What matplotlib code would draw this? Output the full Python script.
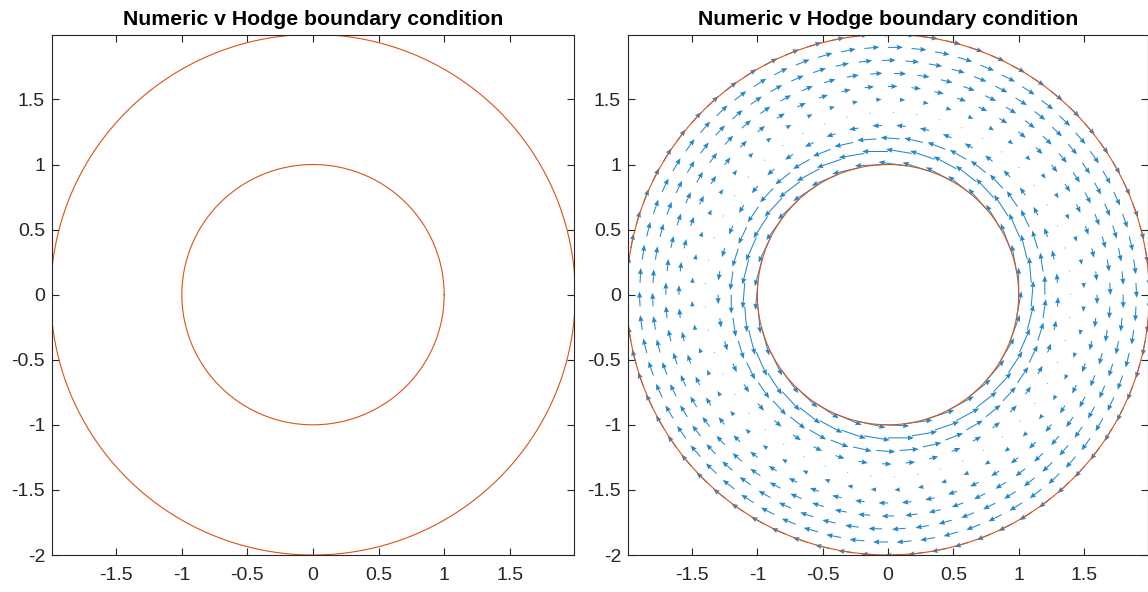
import numpy as np
import matplotlib
matplotlib.use("Agg")
import matplotlib.pyplot as plt

plt.rcParams['font.family'] = ['Liberation Sans', 'DejaVu Sans']
plt.rcParams['axes.unicode_minus'] = False

title = 'Numeric v Hodge boundary condition'

# domain: annulus between the two boundary circles
r_inner = 1.0
r_outer = 2.0

# tangential velocity per ring of nodes (positive = counter-clockwise)
ring_radii = [1.0, 1.1, 1.2, 1.3, 1.4, 1.5, 1.6, 1.7, 1.8, 1.9, 2.0]
ring_speed = [1.0, 0.95, 0.7, 0.35, 0.05, -0.2, -0.35, -0.45, -0.5, -0.55, -0.55]

ticks = [-1.5, -1, -0.5, 0, 0.5, 1, 1.5]
xtick_labels = ['-1.5', '-1', '-0.5', '0', '0.5', '1', '1.5']
yticks = [-2, -1.5, -1, -0.5, 0, 0.5, 1, 1.5]
ytick_labels = ['-2', '-1.5', '-1', '-0.5', '0', '0.5', '1', '1.5']

blue = '#0072BD'
orange = '#D95319'


def nodes(radii, speed, spacing=0.18):
    xs, ys, us, vs = [], [], [], []
    for k, (r, s) in enumerate(zip(radii, speed)):
        n = int(round(2 * np.pi * r / spacing))
        th = np.arange(n) * 2 * np.pi / n + 0.5 * k * 2 * np.pi / n
        xs.append(r * np.cos(th))
        ys.append(r * np.sin(th))
        us.append(-s * np.sin(th))
        vs.append(s * np.cos(th))
    return [np.concatenate(a) for a in (xs, ys, us, vs)]


def style(ax):
    ax.set_xlim(-1.99, 1.99)
    ax.set_ylim(-2, 1.995)
    ax.set_xticks(ticks)
    ax.set_xticklabels(xtick_labels)
    ax.set_yticks(yticks)
    ax.set_yticklabels(ytick_labels)
    ax.tick_params(direction='in', length=5, width=0.8, colors='#262626',
                   labelsize=14, top=True, right=True)
    ax.tick_params(axis='x', pad=9)
    ax.tick_params(axis='y', pad=5)
    for sp in ax.spines.values():
        sp.set_color('#262626')
        sp.set_linewidth(0.8)
    ax.set_title(title, fontsize=15.3, fontweight='bold', pad=7)


def circles(ax):
    t = np.linspace(0, 2 * np.pi, 400)
    for r in (r_inner, r_outer):
        ax.plot(r * np.cos(t), r * np.sin(t), color=orange, lw=0.8)


fig = plt.figure(figsize=(11.48, 5.92), dpi=100)
ax1 = fig.add_axes([52 / 1148, 37 / 592, 522 / 1148, 520 / 592])
ax2 = fig.add_axes([628 / 1148, 37 / 592, 520 / 1148, 520 / 592])

circles(ax1)
style(ax1)

x, y, u, v = nodes(ring_radii, ring_speed)
ax2.quiver(x, y, u, v, color=blue, alpha=0.85, angles='xy', scale_units='xy',
           scale=4.8, width=0.002, headwidth=5, headlength=6,
           headaxislength=5.5, zorder=2)
circles(ax2)
style(ax2)

fig.savefig('out.png', dpi=100)
